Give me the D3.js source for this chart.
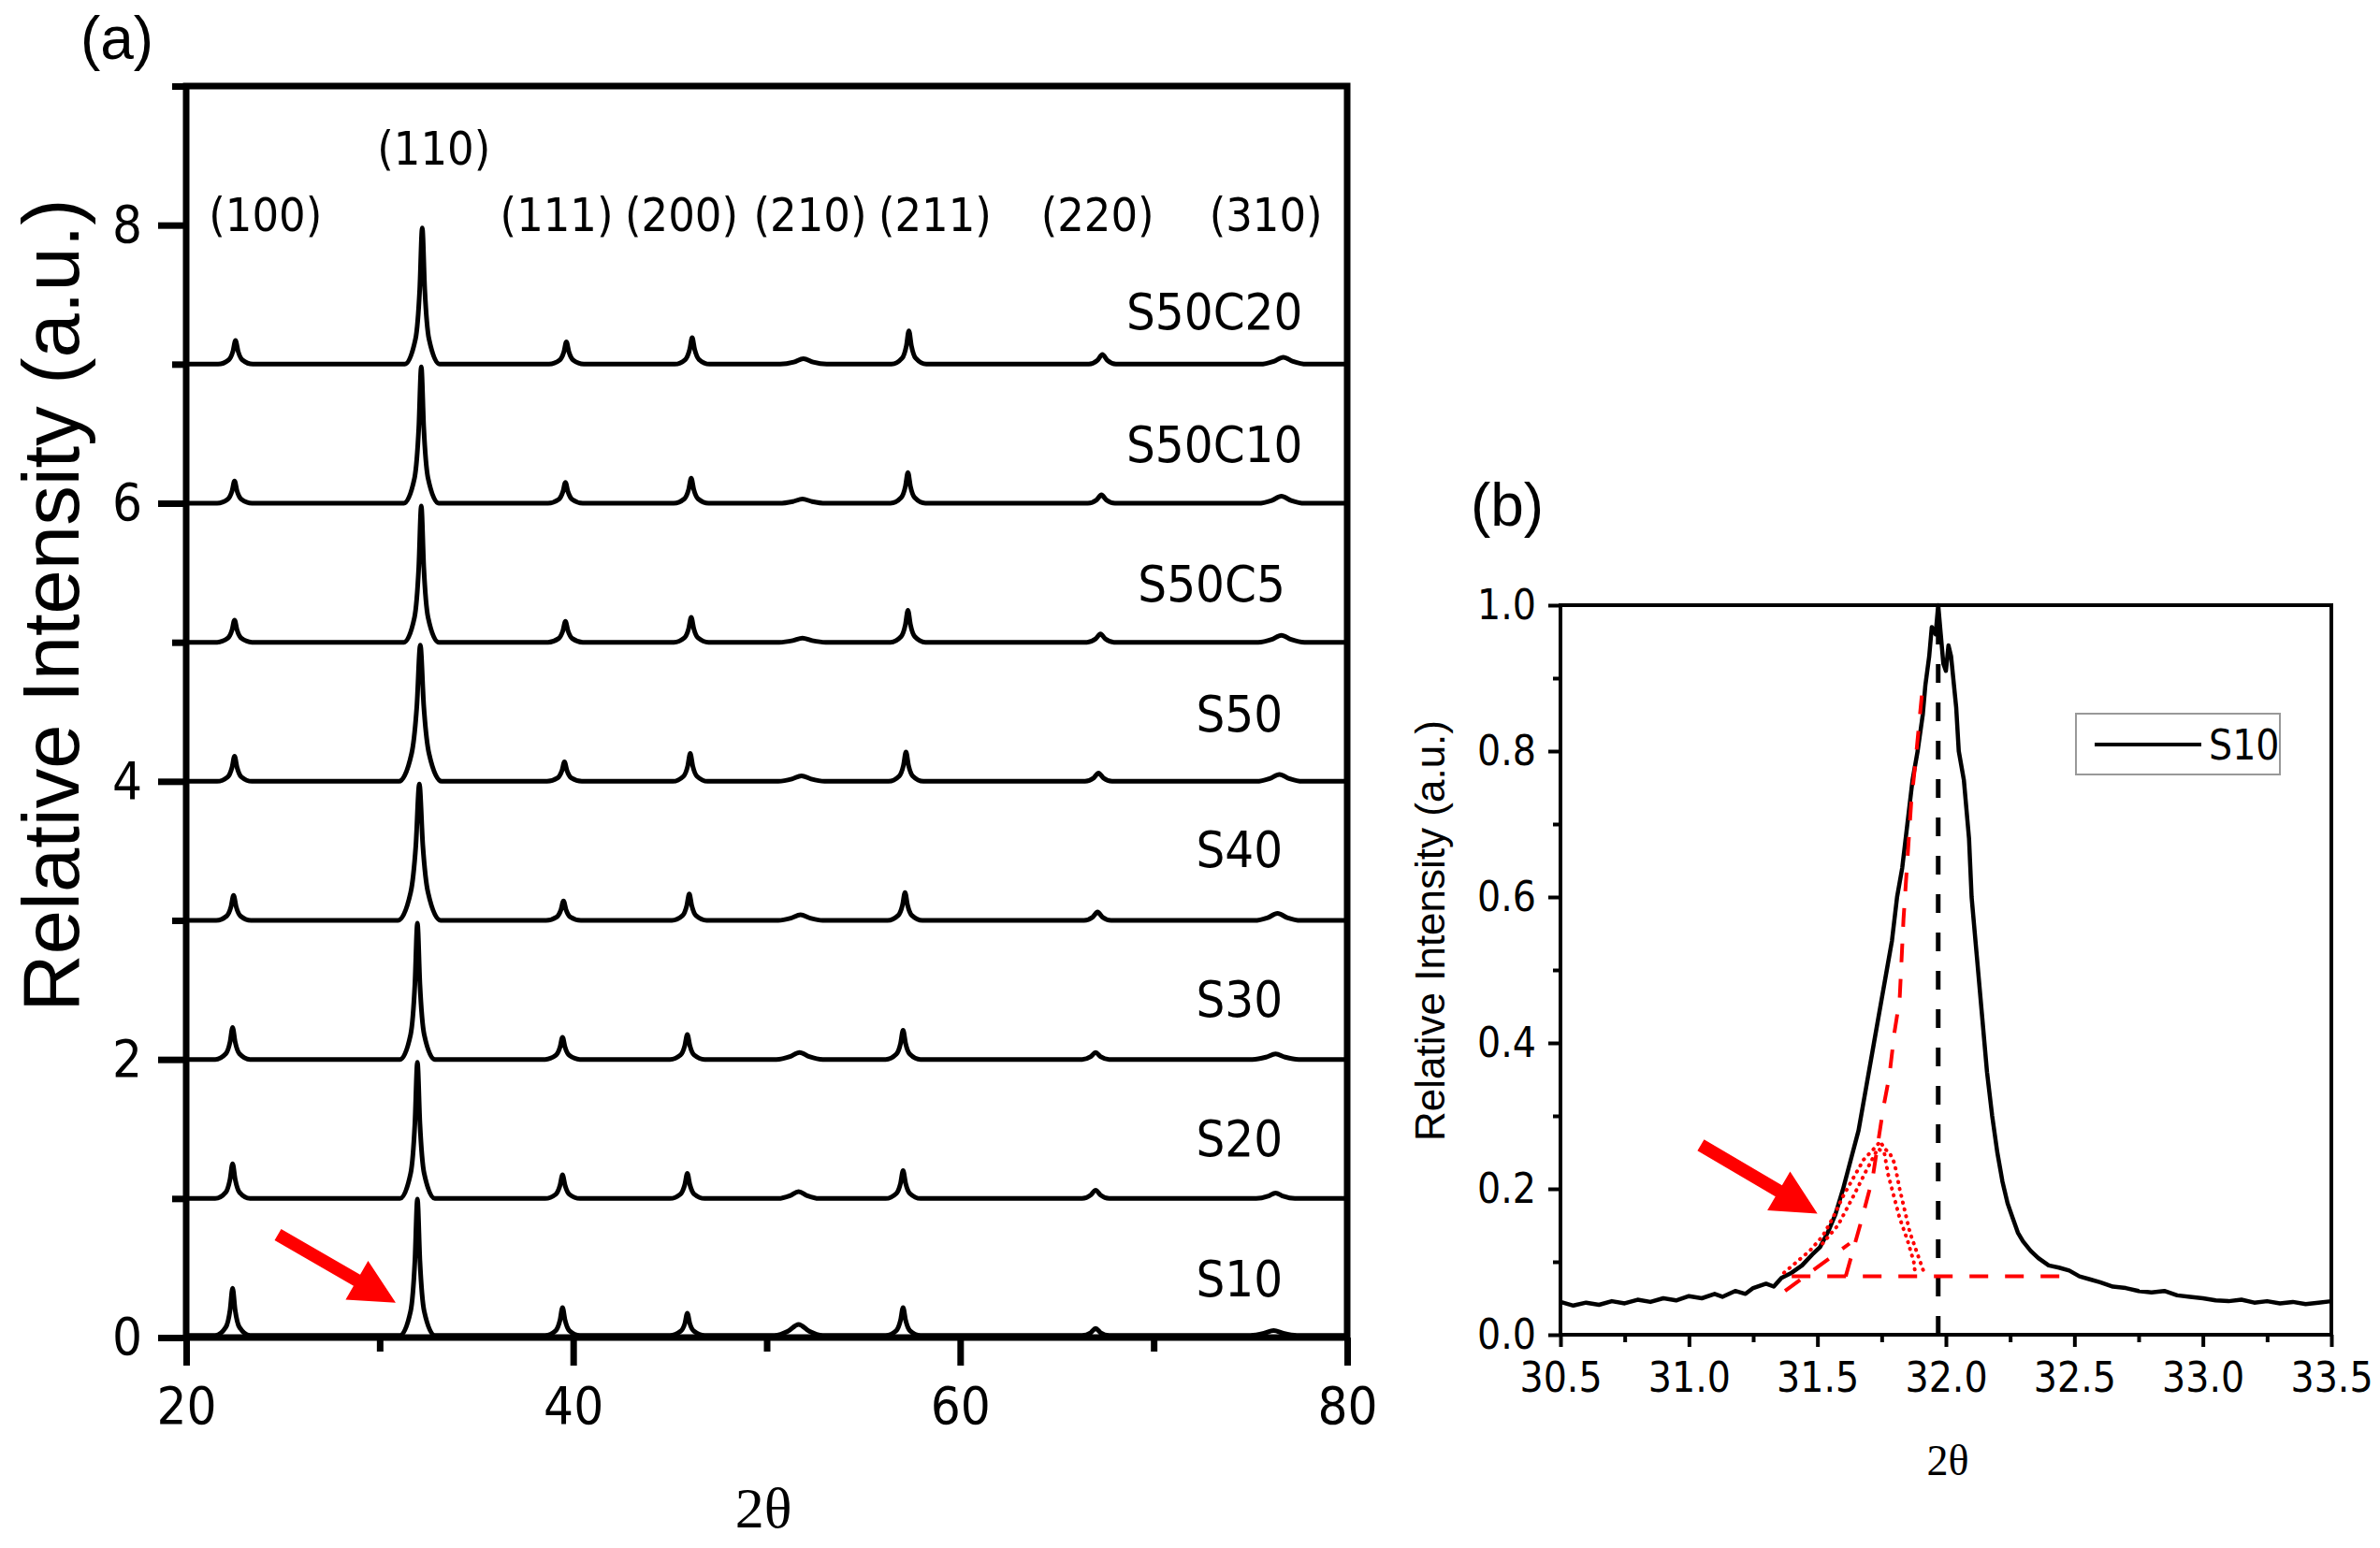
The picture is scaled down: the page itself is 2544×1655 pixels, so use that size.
<!DOCTYPE html>
<html>
<head>
<meta charset="utf-8">
<script src="https://cdn.jsdelivr.net/npm/d3@7"></script>
<style>
  body { margin: 0; background: #fff; }
  .tick text { font-family: 'DejaVu Sans Condensed', 'DejaVu Sans', sans-serif; font-stretch: condensed; fill: #000; }
</style>
</head>
<body>
<svg id="main_svg" width="2544" height="1655"></svg>
<script>
// ---- panel (a): stacked XRD patterns, intensity relative to each pattern's (110) peak
var sampleNames = ['S10', 'S20', 'S30', 'S40', 'S50', 'S50C5', 'S50C10', 'S50C20'];
var stackOffsets = [0, 1, 2, 3, 4, 5, 6, 7];
// where each sample name sits: right end (2θ) and height above its own baseline
var sampleLabelEnd = [76.67, 76.67, 76.67, 76.67, 76.67, 76.8, 77.7, 77.7];
var sampleLabelLift = [0.42, 0.43, 0.43, 0.51, 0.485, 0.42, 0.42, 0.376];

var s10 = [[20,.015],
  [21.5,.015],[22.05,.075],[22.27,.2],[22.4,.355],[22.53,.2],[22.75,.075],[23.3,.015],
  [31.05,.015],[31.6,.19],[31.82,.55],[31.95,.995],[32.08,.55],[32.3,.19],[32.85,.015],
  [38.55,.015],[39.1,.05],[39.32,.125],[39.45,.215],[39.58,.125],[39.8,.05],[40.35,.015],
  [45.0,.015],[45.55,.045],[45.77,.1],[45.9,.175],[46.03,.1],[46.25,.045],[46.8,.015],
  [50.4,.015],[51.1,.045],[51.65,.095],[52.2,.045],[52.9,.015],
  [56.15,.015],[56.7,.05],[56.92,.125],[57.05,.215],[57.18,.125],[57.4,.05],[57.95,.015],
  [66.3,.015],[66.75,.035],[67.0,.065],[67.25,.035],[67.7,.015],
  [75.0,.015],[75.7,.03],[76.2,.05],[76.7,.03],[77.4,.015],
  [80,.015]];
var s20 = [[20,0],
  [21.5,0],[22.05,.045],[22.27,.14],[22.4,.25],[22.53,.14],[22.75,.045],[23.3,0],
  [31.05,0],[31.6,.18],[31.82,.54],[31.95,.98],[32.08,.54],[32.3,.18],[32.85,0],
  [38.55,0],[39.1,.03],[39.32,.095],[39.45,.17],[39.58,.095],[39.8,.03],[40.35,0],
  [45.0,0],[45.55,.032],[45.77,.1],[45.9,.18],[46.03,.1],[46.25,.032],[46.8,0],
  [50.6,0],[51.2,.02],[51.65,.05],[52.1,.02],[52.7,0],
  [56.15,0],[56.7,.036],[56.92,.11],[57.05,.2],[57.18,.11],[57.4,.036],[57.95,0],
  [66.3,0],[66.75,.025],[67.0,.06],[67.25,.025],[67.7,0],
  [75.3,0],[75.9,.016],[76.3,.04],[76.7,.016],[77.3,0],
  [80,0]];
var s30 = [[20,0],
  [21.5,0],[22.05,.041],[22.27,.127],[22.4,.23],[22.53,.127],[22.75,.041],[23.3,0],
  [31.05,0],[31.6,.18],[31.82,.54],[31.95,.98],[32.08,.54],[32.3,.18],[32.85,0],
  [38.55,0],[39.1,.029],[39.32,.088],[39.45,.16],[39.58,.088],[39.8,.029],[40.35,0],
  [45.0,0],[45.55,.032],[45.77,.1],[45.9,.18],[46.03,.1],[46.25,.032],[46.8,0],
  [50.5,0],[51.2,.02],[51.7,.05],[52.2,.02],[52.9,0],
  [56.15,0],[56.7,.038],[56.92,.115],[57.05,.21],[57.18,.115],[57.4,.038],[57.95,0],
  [66.3,0],[66.75,.02],[67.0,.05],[67.25,.02],[67.7,0],
  [75.1,0],[75.8,.016],[76.3,.04],[76.8,.016],[77.5,0],
  [80,0]];
var s40 = [[20,0],
  [21.55,0],[22.1,.032],[22.32,.1],[22.45,.18],[22.58,.1],[22.8,.032],[23.35,0],
  [30.95,0],[31.6,.2],[31.87,.54],[32.05,.98],[32.23,.54],[32.5,.2],[33.15,0],
  [38.6,0],[39.15,.025],[39.37,.077],[39.5,.14],[39.63,.077],[39.85,.025],[40.4,0],
  [45.1,0],[45.65,.034],[45.87,.105],[46.0,.19],[46.13,.105],[46.35,.034],[46.9,0],
  [50.6,0],[51.25,.016],[51.75,.04],[52.25,.016],[52.9,0],
  [56.25,0],[56.8,.036],[57.02,.11],[57.15,.2],[57.28,.11],[57.5,.036],[58.05,0],
  [66.4,0],[66.85,.024],[67.1,.06],[67.35,.024],[67.8,0],
  [75.2,0],[75.9,.02],[76.4,.05],[76.9,.02],[77.6,0],
  [80,0]];
var s50 = [[20,0],
  [21.6,0],[22.15,.032],[22.37,.1],[22.5,.18],[22.63,.1],[22.85,.032],[23.4,0],
  [31.0,0],[31.65,.2],[31.92,.54],[32.1,.98],[32.28,.54],[32.55,.2],[33.2,0],
  [38.65,0],[39.2,.025],[39.42,.077],[39.55,.14],[39.68,.077],[39.9,.025],[40.45,0],
  [45.15,0],[45.7,.036],[45.92,.11],[46.05,.2],[46.18,.11],[46.4,.036],[46.95,0],
  [50.6,0],[51.3,.016],[51.8,.04],[52.3,.016],[53.0,0],
  [56.3,0],[56.85,.038],[57.07,.115],[57.2,.21],[57.33,.115],[57.55,.038],[58.1,0],
  [66.45,0],[66.9,.024],[67.15,.06],[67.4,.024],[67.85,0],
  [75.3,0],[76.0,.02],[76.5,.05],[77.0,.02],[77.7,0],
  [80,0]];
var s50c5 = [[20,0],
  [21.6,0],[22.15,.029],[22.37,.088],[22.5,.16],[22.63,.088],[22.85,.029],[23.4,0],
  [31.25,0],[31.8,.18],[32.02,.54],[32.15,.98],[32.28,.54],[32.5,.18],[33.05,0],
  [38.7,0],[39.25,.027],[39.47,.083],[39.6,.15],[39.73,.083],[39.95,.027],[40.5,0],
  [45.2,0],[45.75,.032],[45.97,.1],[46.1,.18],[46.23,.1],[46.45,.032],[47.0,0],
  [50.65,0],[51.35,.012],[51.85,.03],[52.35,.012],[53.05,0],
  [56.4,0],[56.95,.041],[57.17,.127],[57.3,.23],[57.43,.127],[57.65,.041],[58.2,0],
  [66.55,0],[67.0,.024],[67.25,.06],[67.5,.024],[67.95,0],
  [75.4,0],[76.1,.02],[76.6,.05],[77.1,.02],[77.8,0],
  [80,0]];
var s50c10 = [[20,0],
  [21.6,0],[22.15,.029],[22.37,.088],[22.5,.16],[22.63,.088],[22.85,.029],[23.4,0],
  [31.25,0],[31.8,.18],[32.02,.54],[32.15,.98],[32.28,.54],[32.5,.18],[33.05,0],
  [38.7,0],[39.25,.027],[39.47,.083],[39.6,.15],[39.73,.083],[39.95,.027],[40.5,0],
  [45.2,0],[45.75,.032],[45.97,.1],[46.1,.18],[46.23,.1],[46.45,.032],[47.0,0],
  [50.65,0],[51.35,.012],[51.85,.03],[52.35,.012],[53.05,0],
  [56.4,0],[56.95,.04],[57.17,.121],[57.3,.22],[57.43,.121],[57.65,.04],[58.2,0],
  [66.6,0],[67.05,.024],[67.3,.06],[67.55,.024],[68.0,0],
  [75.4,0],[76.1,.02],[76.6,.05],[77.1,.02],[77.8,0],
  [80,0]];
var s50c20 = [[20,0],
  [21.65,0],[22.2,.031],[22.42,.094],[22.55,.17],[22.68,.094],[22.9,.031],[23.45,0],
  [31.3,0],[31.85,.18],[32.07,.54],[32.2,.98],[32.33,.54],[32.55,.18],[33.1,0],
  [38.75,0],[39.3,.029],[39.52,.088],[39.65,.16],[39.78,.088],[40.0,.029],[40.55,0],
  [45.25,0],[45.8,.034],[46.02,.105],[46.15,.19],[46.28,.105],[46.5,.034],[47.05,0],
  [50.7,0],[51.4,.015],[51.9,.04],[52.4,.015],[53.1,0],
  [56.45,0],[57.0,.043],[57.22,.132],[57.35,.24],[57.48,.132],[57.7,.043],[58.25,0],
  [66.65,0],[67.1,.028],[67.35,.07],[67.6,.028],[68.05,0],
  [75.5,0],[76.2,.02],[76.7,.05],[77.2,.02],[77.9,0],
  [80,0]];
var xrdSeries = [s10, s20, s30, s40, s50, s50c5, s50c10, s50c20];

var hklLabels = ['(100)', '(110)', '(111)', '(200)', '(210)', '(211)', '(220)', '(310)'];
var hklTheta = [24.1, 32.8, 39.15, 45.6, 52.25, 58.7, 67.1, 75.8];
var hklLevel = [8.07, 8.55, 8.07, 8.07, 8.07, 8.07, 8.07, 8.07];

var xTicksA = [20, 40, 60, 80];
var xMinorA = [30, 50, 70];
var yTicksA = [0, 2, 4, 6, 8];
var yMinorA = [1, 3, 5, 7, 9];

// ---- panel (b): S10 (110) peak with the fitted components
var s10Peak = [[30.50,.045],[30.55,.040],[30.60,.044],[30.65,.041],[30.70,.046],[30.75,.043],[30.80,.048],
  [30.85,.045],[30.90,.050],[30.95,.047],[31.00,.053],[31.05,.050],[31.10,.056],[31.13,.052],[31.18,.060],
  [31.22,.056],[31.25,.064],[31.30,.070],[31.33,.066],[31.36,.078],[31.40,.085],[31.44,.095],[31.48,.110],
  [31.51,.120],[31.54,.140],[31.57,.165],[31.60,.200],[31.63,.240],[31.66,.280],[31.69,.340],[31.72,.400],
  [31.75,.460],[31.77,.500],[31.79,.540],[31.81,.600],[31.83,.640],[31.85,.700],[31.87,.760],[31.89,.800],
  [31.91,.850],[31.92,.890],[31.935,.930],[31.945,.970],[31.96,.960],[31.97,1.0],[31.98,.96],[31.99,.92],
  [32.0,.91],[32.01,.945],[32.02,.93],[32.04,.86],[32.05,.80],[32.07,.76],[32.09,.68],[32.10,.60],
  [32.12,.52],[32.14,.44],[32.16,.36],[32.18,.30],[32.20,.25],[32.22,.21],[32.24,.18],[32.26,.16],
  [32.28,.14],[32.30,.128],[32.33,.115],[32.36,.105],[32.40,.095],[32.44,.092],[32.48,.088],[32.52,.080],
  [32.56,.076],[32.60,.072],[32.65,.066],[32.70,.064],[32.75,.060],[32.80,.058],[32.85,.060],[32.90,.054],
  [32.95,.052],[33.00,.050],[33.05,.047],[33.10,.046],[33.15,.048],[33.20,.044],[33.25,.046],[33.30,.043],
  [33.35,.045],[33.40,.042],[33.45,.044],[33.50,.046]];
var fitMain = [[31.61,.08],[31.67,.155],[31.715,.215],[31.756,.31],[31.78,.355],[31.80,.415],[31.82,.46],
  [31.835,.57],[31.865,.73],[31.88,.78],[31.91,.89]];
var fitShoulder = [[31.374,.06],[31.625,.125]];
var fitBaseline = [[31.40,.08],[32.49,.08]];
var dotOuter = [[31.37,.085],[31.42,.1],[31.47,.115],[31.52,.135],[31.56,.16],[31.60,.19],[31.64,.215],
  [31.68,.24],[31.72,.255],[31.745,.265],[31.76,.255],[31.78,.25],[31.80,.235],[31.82,.2],[31.84,.17],
  [31.86,.14],[31.88,.12],[31.90,.1],[31.915,.085]];
var dotInner = [[31.52,.125],[31.58,.15],[31.64,.19],[31.69,.225],[31.735,.255],[31.76,.25],[31.775,.22],
  [31.79,.2],[31.82,.16],[31.85,.13],[31.875,.1],[31.88,.085]];
var peakCentre = 31.97;

var xTicksB = [30.5, 31.0, 31.5, 32.0, 32.5, 33.0, 33.5];
var xMinorB = [30.75, 31.25, 31.75, 32.25, 32.75, 33.25];
var yTicksB = [0, 0.2, 0.4, 0.6, 0.8, 1.0];
var yMinorB = [0.1, 0.3, 0.5, 0.7, 0.9];

var arrowA = [[24.74, 0.74], [30.83, 0.25]];
var arrowB = [[31.046, 0.26], [31.50, 0.166]];

var svg = d3.select('#main_svg');
svg.append('rect').attr('width', 2544).attr('height', 1655).attr('fill', '#fff');

var tickFont = "'DejaVu Sans Condensed', 'DejaVu Sans', sans-serif";

function draw_axes(g, x, y, o) {
  var bottom = y.range()[0], left = x.range()[0];
  var xa = g.append('g').attr('transform', 'translate(0,' + bottom + ')')
    .call(d3.axisBottom(x).tickValues(o.xt).tickSize(o.major).tickSizeOuter(0).tickPadding(o.xpad).tickFormat(o.xfmt));
  var xm = g.append('g').attr('transform', 'translate(0,' + bottom + ')')
    .call(d3.axisBottom(x).tickValues(o.xm).tickSize(o.minor).tickSizeOuter(0).tickFormat(''));
  var ya = g.append('g').attr('transform', 'translate(' + left + ',0)')
    .call(d3.axisLeft(y).tickValues(o.yt).tickSize(o.major).tickSizeOuter(0).tickPadding(o.ypad).tickFormat(o.yfmt));
  var ym = g.append('g').attr('transform', 'translate(' + left + ',0)')
    .call(d3.axisLeft(y).tickValues(o.ym).tickSize(o.minor).tickSizeOuter(0).tickFormat(''));
  [xa, xm, ya, ym].forEach(function(a) {
    a.select('.domain').remove();
    a.selectAll('line').attr('stroke', '#000').attr('stroke-width', o.sw);
    a.selectAll('text').style('font-size', o.fs + 'px');
  });
  g.append('rect')
    .attr('x', x.range()[0]).attr('y', y.range()[1])
    .attr('width', x.range()[1] - x.range()[0]).attr('height', y.range()[0] - y.range()[1])
    .attr('fill', 'none').attr('stroke', '#000').attr('stroke-width', o.sw);
}

function draw_arrow(g, x, y, pts) {
  var x0 = x(pts[0][0]), y0 = y(pts[0][1]), x1 = x(pts[1][0]), y1 = y(pts[1][1]);
  var a = Math.atan2(y1 - y0, x1 - x0), len = Math.hypot(x1 - x0, y1 - y0);
  var hl = 48, hw = 24, sw = 7;
  var shape = [[0, -sw], [len - hl, -sw], [len - hl, -hw], [len, 0], [len - hl, hw], [len - hl, sw], [0, sw]];
  g.append('polygon')
    .attr('points', shape.map(function(p) { return p.join(','); }).join(' '))
    .attr('transform', 'translate(' + x0 + ',' + y0 + ') rotate(' + (a * 180 / Math.PI) + ')')
    .attr('fill', '#ff0000');
}

// ---------------- panel (a)
var xA = d3.scaleLinear().domain([20, 80]).range([199, 1440]);
var yA = d3.scaleLinear().domain([0, 9]).range([1430, 92]);
var gA = svg.append('g');

var lineA = d3.line().curve(d3.curveMonotoneX);
xrdSeries.forEach(function(s, i) {
  gA.append('path')
    .attr('d', lineA.x(function(d) { return xA(d[0]); }).y(function(d) { return yA(d[1] + stackOffsets[i]); })(s))
    .attr('fill', 'none').attr('stroke', '#000').attr('stroke-width', 5).attr('stroke-linejoin', 'round');
});

draw_axes(gA, xA, yA, {xt: xTicksA, xm: xMinorA, yt: yTicksA, ym: yMinorA, major: 30, minor: 15,
  xpad: 22, ypad: 17, sw: 7, fs: 56, xfmt: d3.format('d'), yfmt: d3.format('d')});

gA.selectAll('.sample')
  .data(sampleNames)
  .enter().append('text')
  .attr('x', function(d, i) { return xA(sampleLabelEnd[i]); })
  .attr('y', function(d, i) { return yA(stackOffsets[i] + sampleLabelLift[i]); })
  .attr('text-anchor', 'end').attr('dominant-baseline', 'central')
  .style('font-family', tickFont).style('font-stretch', 'condensed').style('font-size', '54px')
  .text(function(d) { return d; });

gA.selectAll('.hkl')
  .data(hklLabels)
  .enter().append('text')
  .attr('x', function(d, i) { return xA(hklTheta[i]); })
  .attr('y', function(d, i) { return yA(hklLevel[i]); })
  .attr('text-anchor', 'middle').attr('dominant-baseline', 'central')
  .style('font-family', tickFont).style('font-stretch', 'condensed').style('font-size', '50px')
  .text(function(d) { return d; });

draw_arrow(gA, xA, yA, arrowA);

svg.append('text').attr('x', 125).attr('y', 41)
  .attr('text-anchor', 'middle').attr('dominant-baseline', 'central')
  .style('font-family', "'Liberation Sans', Arial, sans-serif").style('font-size', '64px').text('(a)');
svg.append('text').attr('transform', 'translate(54,647) rotate(-90)')
  .attr('text-anchor', 'middle').attr('dominant-baseline', 'central')
  .style('font-family', "'Liberation Sans', Arial, sans-serif").style('font-size', '85px')
  .text('Relative Intensity (a.u.)');
svg.append('text').attr('x', 816).attr('y', 1612)
  .attr('text-anchor', 'middle').attr('dominant-baseline', 'central')
  .style('font-family', "'Liberation Serif', 'Times New Roman', serif").style('font-size', '62px').text('2θ');

// ---------------- panel (b)
var xB = d3.scaleLinear().domain([30.5, 33.5]).range([1668, 2492]);
var yB = d3.scaleLinear().domain([0, 1]).range([1427, 647]);
var gB = svg.append('g');
var lineB = d3.line().x(function(d) { return xB(d[0]); }).y(function(d) { return yB(d[1]); });

gB.append('path').attr('d', lineB(s10Peak))
  .attr('fill', 'none').attr('stroke', '#000').attr('stroke-width', 4.5).attr('stroke-linejoin', 'round');
gB.append('line')
  .attr('x1', xB(peakCentre)).attr('x2', xB(peakCentre)).attr('y1', yB(0)).attr('y2', yB(1))
  .attr('stroke', '#000').attr('stroke-width', 5).attr('stroke-dasharray', '20,21');
[fitMain, fitShoulder, fitBaseline].forEach(function(s) {
  gB.append('path').attr('d', lineB(s))
    .attr('fill', 'none').attr('stroke', '#ff0000').attr('stroke-width', 4).attr('stroke-dasharray', '20,18');
});
[dotOuter, dotInner].forEach(function(s) {
  gB.append('path').attr('d', lineB(s))
    .attr('fill', 'none').attr('stroke', '#ff0000').attr('stroke-width', 4)
    .attr('stroke-linecap', 'round').attr('stroke-dasharray', '0.5,7');
});

draw_axes(gB, xB, yB, {xt: xTicksB, xm: xMinorB, yt: yTicksB, ym: yMinorB, major: 13, minor: 8,
  xpad: 17, ypad: 13, sw: 4, fs: 44, xfmt: d3.format('.1f'), yfmt: d3.format('.1f')});

draw_arrow(gB, xB, yB, arrowB);

// legend
var legend = gB.append('g').attr('class', 'legend').attr('transform', 'translate(2219,763)');
legend.append('rect').attr('width', 218).attr('height', 65)
  .attr('fill', '#fff').attr('stroke', '#999').attr('stroke-width', 2);
legend.append('line').attr('x1', 20).attr('x2', 134).attr('y1', 33).attr('y2', 33)
  .attr('stroke', '#000').attr('stroke-width', 4);
legend.append('text').attr('x', 142).attr('y', 33).attr('dominant-baseline', 'central')
  .style('font-family', tickFont).style('font-stretch', 'condensed').style('font-size', '44px').text('S10');

svg.append('text').attr('x', 1611).attr('y', 540)
  .attr('text-anchor', 'middle').attr('dominant-baseline', 'central')
  .style('font-family', "'Liberation Sans', Arial, sans-serif").style('font-size', '64px').text('(b)');
svg.append('text').attr('transform', 'translate(1528,995) rotate(-90)')
  .attr('text-anchor', 'middle').attr('dominant-baseline', 'central')
  .style('font-family', "'Liberation Sans', Arial, sans-serif").style('font-size', '44px')
  .text('Relative Intensity (a.u.)');
svg.append('text').attr('x', 2082).attr('y', 1561)
  .attr('text-anchor', 'middle').attr('dominant-baseline', 'central')
  .style('font-family', "'Liberation Serif', 'Times New Roman', serif").style('font-size', '46px').text('2θ');
</script>
</body>
</html>
